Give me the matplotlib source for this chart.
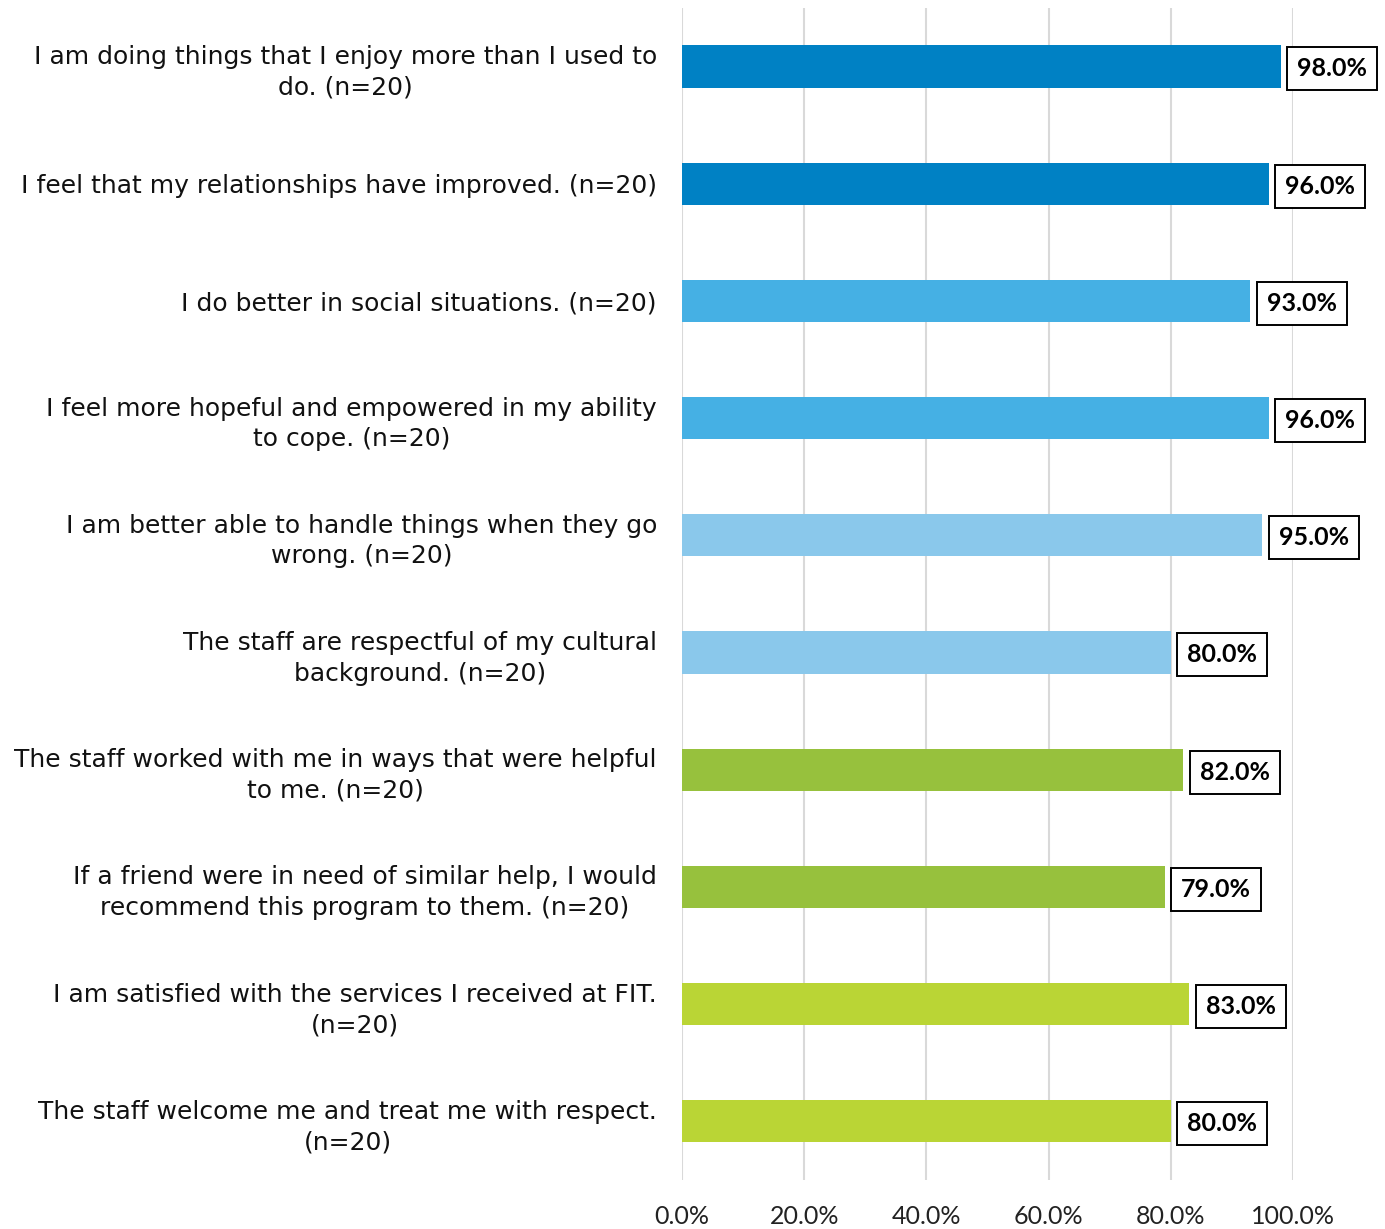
import matplotlib.pyplot as plt
from matplotlib.ticker import FuncFormatter

labels = [
    "I am doing things that I enjoy more than I used to\ndo. (n=20)",
    "I feel that my relationships have improved. (n=20)",
    "I do better in social situations. (n=20)",
    "I feel more hopeful and empowered in my ability\nto cope. (n=20)",
    "I am better able to handle things when they go\nwrong. (n=20)",
    "The staff are respectful of my cultural\nbackground. (n=20)",
    "The staff worked with me in ways that were helpful\nto me. (n=20)",
    "If a friend were in need of similar help, I would\nrecommend this program to them. (n=20)",
    "I am satisfied with the services I received at FIT.\n(n=20)",
    "The staff welcome me and treat me with respect.\n(n=20)",
]
values = [98.0, 96.0, 93.0, 96.0, 95.0, 80.0, 82.0, 79.0, 83.0, 80.0]
colors = ["#0081C4", "#0081C4", "#45B0E4", "#45B0E4", "#8AC8EB",
          "#8AC8EB", "#97C13D", "#97C13D", "#BAD535", "#BAD535"]
ticks = [0, 20, 40, 60, 80, 100]

plt.rcParams["font.family"] = ["Lato", "DejaVu Sans"]

fig = plt.figure(figsize=(13.85, 12.29), dpi=100)
ax = fig.add_axes([0.4924, 0.04, 0.4412, 0.9535])

y = range(len(values))
ax.barh(y, values, height=0.36, color=colors, zorder=3)

for i, v in enumerate(values):
    ax.text(v + 2.7, i + 0.02, f"{v:.1f}%", ha="left", va="center",
            fontsize=18, fontweight="bold", zorder=4, clip_on=False,
            bbox=dict(boxstyle="square,pad=0.4", fc="white", ec="black", lw=1.4))

ax.set_xlim(0, 100)
ax.set_ylim(len(values) - 0.5, -0.5)
ax.set_xticks(ticks)
ax.xaxis.set_major_formatter(FuncFormatter(lambda x, _: f"{x:.1f}%"))
ax.set_yticks(list(y))
ax.set_yticklabels(labels, fontsize=18, fontfamily="DejaVu Sans")
for t in ax.get_yticklabels():
    t.set_multialignment("center")
    t.set_linespacing(1.35)
ax.tick_params(axis="x", labelsize=18, length=0, pad=18, colors="#222222")
ax.tick_params(axis="y", length=0, pad=18, colors="#111111")
ax.grid(axis="x", color="#D9D9D9", lw=1.5, zorder=0)
for s in ax.spines.values():
    s.set_visible(False)

fig.savefig("out.png", dpi=100)
